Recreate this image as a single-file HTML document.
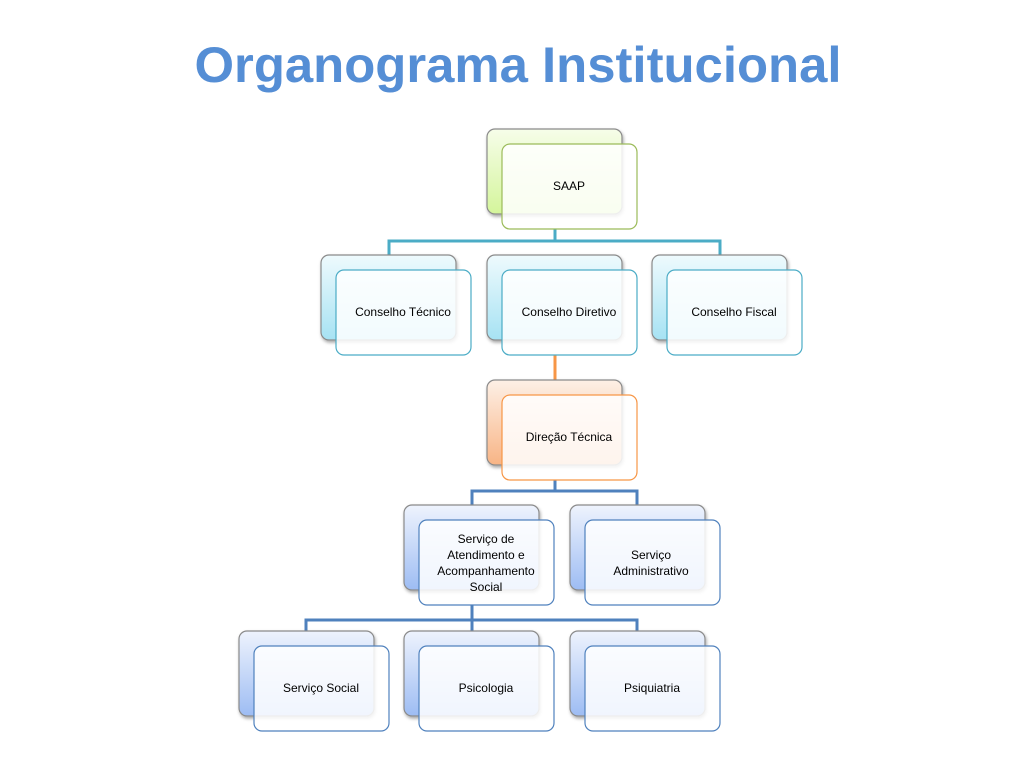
<!DOCTYPE html>
<html><head><meta charset="utf-8"><style>html,body{margin:0;padding:0;background:#fff}svg{display:block}</style></head>
<body>
<svg width="1035" height="767" viewBox="0 0 1035 767" xmlns="http://www.w3.org/2000/svg" font-family="Liberation Sans, sans-serif">
<defs>
<linearGradient id="gG" x1="0" y1="0" x2="0" y2="1"><stop offset="0" stop-color="#f6fde9"/><stop offset="1" stop-color="#d4f59b"/></linearGradient>
<linearGradient id="gC" x1="0" y1="0" x2="0" y2="1"><stop offset="0" stop-color="#eefafd"/><stop offset="1" stop-color="#a6e2f3"/></linearGradient>
<linearGradient id="gO" x1="0" y1="0" x2="0" y2="1"><stop offset="0" stop-color="#fdf0e6"/><stop offset="1" stop-color="#f8b485"/></linearGradient>
<linearGradient id="gB" x1="0" y1="0" x2="0" y2="1"><stop offset="0" stop-color="#eef3fd"/><stop offset="1" stop-color="#9dbcf3"/></linearGradient>
<filter id="sh" x="-10%" y="-10%" width="130%" height="130%"><feDropShadow dx="1" dy="2" stdDeviation="1.5" flood-color="#000" flood-opacity="0.35"/></filter>
</defs>
<text x="518" y="82" text-anchor="middle" font-size="50" font-weight="bold" fill="#558ed5" textLength="647" lengthAdjust="spacingAndGlyphs">Organograma Institucional</text>

<g fill="none" stroke-width="3">
<path d="M555 229V241M389 255V241H720V255" stroke="#4bacc6"/>
<path d="M555 355V380" stroke="#f79646"/>
<path d="M555 480V491M472 505V491H637V505" stroke="#4f81bd"/>
<path d="M472 605V620M306 631V620H637V631M472 620V631" stroke="#4f81bd"/>
</g>

<g stroke-width="1.2">
<!-- SAAP -->
<rect x="487" y="129" width="135" height="85" rx="8" fill="url(#gG)" stroke="#8a8a8a" filter="url(#sh)"/>
<rect x="502" y="144" width="135" height="85" rx="8" fill="#fff" fill-opacity="0.85" stroke="#9bbb59"/>
<!-- councils -->
<rect x="321" y="255" width="135" height="85" rx="8" fill="url(#gC)" stroke="#8a8a8a" filter="url(#sh)"/>
<rect x="336" y="270" width="135" height="85" rx="8" fill="#fff" fill-opacity="0.85" stroke="#4bacc6"/>
<rect x="487" y="255" width="135" height="85" rx="8" fill="url(#gC)" stroke="#8a8a8a" filter="url(#sh)"/>
<rect x="502" y="270" width="135" height="85" rx="8" fill="#fff" fill-opacity="0.85" stroke="#4bacc6"/>
<rect x="652" y="255" width="135" height="85" rx="8" fill="url(#gC)" stroke="#8a8a8a" filter="url(#sh)"/>
<rect x="667" y="270" width="135" height="85" rx="8" fill="#fff" fill-opacity="0.85" stroke="#4bacc6"/>
<!-- direcao -->
<rect x="487" y="380" width="135" height="85" rx="8" fill="url(#gO)" stroke="#8a8a8a" filter="url(#sh)"/>
<rect x="502" y="395" width="135" height="85" rx="8" fill="#fff" fill-opacity="0.85" stroke="#f79646"/>
<!-- row4 -->
<rect x="404" y="505" width="135" height="85" rx="8" fill="url(#gB)" stroke="#8a8a8a" filter="url(#sh)"/>
<rect x="419" y="520" width="135" height="85" rx="8" fill="#fff" fill-opacity="0.85" stroke="#4f81bd"/>
<rect x="570" y="505" width="135" height="85" rx="8" fill="url(#gB)" stroke="#8a8a8a" filter="url(#sh)"/>
<rect x="585" y="520" width="135" height="85" rx="8" fill="#fff" fill-opacity="0.85" stroke="#4f81bd"/>
<!-- row5 -->
<rect x="239" y="631" width="135" height="85" rx="8" fill="url(#gB)" stroke="#8a8a8a" filter="url(#sh)"/>
<rect x="254" y="646" width="135" height="85" rx="8" fill="#fff" fill-opacity="0.85" stroke="#4f81bd"/>
<rect x="404" y="631" width="135" height="85" rx="8" fill="url(#gB)" stroke="#8a8a8a" filter="url(#sh)"/>
<rect x="419" y="646" width="135" height="85" rx="8" fill="#fff" fill-opacity="0.85" stroke="#4f81bd"/>
<rect x="570" y="631" width="135" height="85" rx="8" fill="url(#gB)" stroke="#8a8a8a" filter="url(#sh)"/>
<rect x="585" y="646" width="135" height="85" rx="8" fill="#fff" fill-opacity="0.85" stroke="#4f81bd"/>
</g>

<g font-size="12" fill="#000" text-anchor="middle">
<text x="569" y="190">SAAP</text>
<text x="403" y="316">Conselho Técnico</text>
<text x="569" y="316">Conselho Diretivo</text>
<text x="734" y="316">Conselho Fiscal</text>
<text x="569" y="441">Direção Técnica</text>
<text x="486" y="543">Serviço de</text>
<text x="486" y="559">Atendimento e</text>
<text x="486" y="575">Acompanhamento</text>
<text x="486" y="591">Social</text>
<text x="651" y="559">Serviço</text>
<text x="651" y="575">Administrativo</text>
<text x="321" y="692">Serviço Social</text>
<text x="486" y="692">Psicologia</text>
<text x="652" y="692">Psiquiatria</text>
</g>
</svg>
</body></html>
